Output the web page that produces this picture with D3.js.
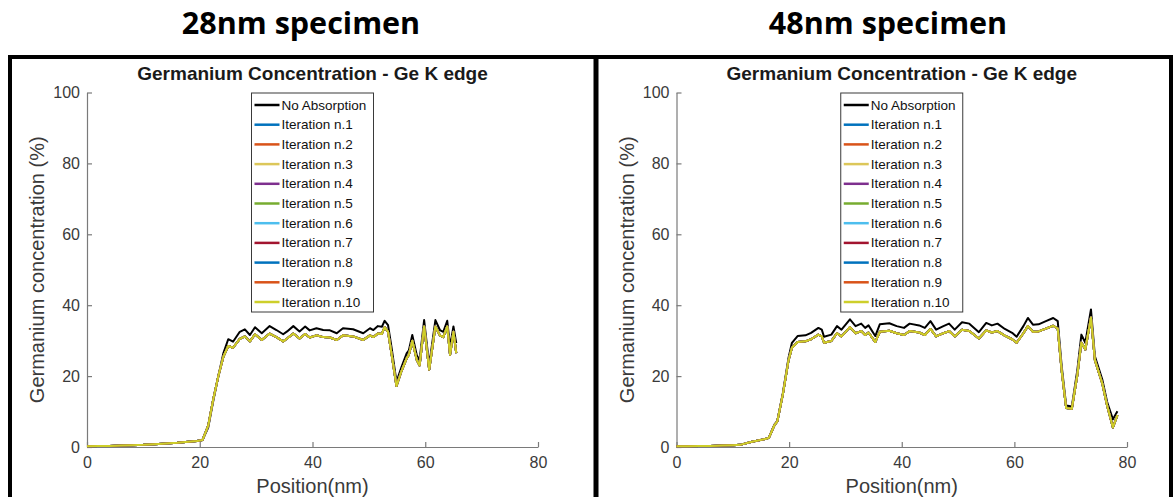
<!DOCTYPE html>
<html><head><meta charset="utf-8">
<script src="https://cdn.jsdelivr.net/npm/d3@7"></script>
<style>html,body{margin:0;padding:0;background:#fff;}svg{display:block;}</style>
</head><body>
<svg id="chart" width="1175" height="497"></svg>
<script>
// ---------- data ----------
const panelHeadings = ["28nm specimen", "48nm specimen"];
const chartTitle = "Germanium Concentration - Ge K edge";
const xLabel = "Position(nm)";
const yLabel = "Germanium concentration (%)";
const xTicks = [0, 20, 40, 60, 80];
const yTicks = [0, 20, 40, 60, 80, 100];
const seriesNames = ["No Absorption", "Iteration n.1", "Iteration n.2", "Iteration n.3", "Iteration n.4",
  "Iteration n.5", "Iteration n.6", "Iteration n.7", "Iteration n.8", "Iteration n.9", "Iteration n.10"];
const seriesColors = ["#000000", "#0072BD", "#D95319", "#DCC75A", "#7E2F8E", "#77AC30", "#4DBEEE",
  "#A2142F", "#0072BD", "#D95319", "#CDCF2A"];

// 28nm specimen
const pos28 = [0,2,4,6,8,10,12,14,16,18, 19.5,20.5,21.5,22.4,23.3,24.2,25.05,25.9,27.1,28.0,
  28.9,29.8,31.0,32.4,33.6,34.8,35.5,36.6,37.7,38.7, 39.5,40.7,41.9,43.1,44.3,45.4,47.2,49.0,50.2,50.8,
  51.6,52.3,52.8,53.4,54.0,54.9,55.8,56.7,57.1,57.7, 58.5,59.0,59.8,60.7,61.8,62.6,63.2,63.9,64.4,65.0, 65.5];
const noAbs28 = [0.2,0.3,0.3,0.4,0.5,0.6,0.8,1.0,1.2,1.5, 1.7,2.0,5.5,13,20,26.5,30.4,29.7,32.5,33.2,
  31.6,33.8,32.1,34.1,33.0,31.8,32.6,34.1,32.6,34.0, 32.9,33.5,33.0,32.9,32.1,33.5,33.2,32.1,33.5,33.0,
  34.1,33.9,35.6,34.4,28.3,18.4,22.6,26.4,27.3,31.6, 25.9,24.5,35.8,23.1,35.8,33.0,32.5,35.6,28.3,34.0, 29.3];
// iterations 1-10 overlap each other at this resolution
const iter28 = [0.2,0.3,0.3,0.4,0.5,0.6,0.8,1.0,1.2,1.5, 1.7,2.0,6.0,13.5,20,25.5,28.5,28.0,30.5,31.2,
  29.8,31.8,30.2,32.0,31.0,29.8,30.6,32.0,30.6,31.9, 30.9,31.5,31.0,30.9,30.2,31.5,31.2,30.2,31.5,31.0,
  32.0,31.9,33.8,32.5,26.5,17.2,21.5,25.0,26.0,30.0, 24.5,23.0,34.0,21.8,34.0,31.5,31.0,34.0,26.0,32.5, 26.5];

// 48nm specimen
const pos48 = [0,2,4,6,8,10, 11.3,13.2,15.9,16.4,17.4,17.9,18.9,19.9,20.5,21.5,
  22.9,23.9,25.2,25.8,26.2,27.5,28.5,29.3,30.8,31.8, 32.8,33.5,34.1,35.3,36.1,37.8,39.1,40.4,41.4,43.1,
  44.1,45.1,46.1,47.4,48.4,49.4,50.7,52.0,53.7,55.0, 56.0,57.0,58.3,59.6,60.4,61.6,62.4,63.3,64.3,65.6,
  66.9,67.7,68.4,69.2,70.2,71.2,71.9,72.6,73.6,74.3, 75.6,76.5,77.5,78.3];
const noAbs48 = [0.2,0.2,0.3,0.3,0.4,0.5, 0.6,1.4,2.3,2.6,6.4,7.3,15.3,25.2,29.4,31.3,
  31.5,32.2,33.6,33.1,31.1,31.7,34.1,33.1,36.0,34.1, 34.8,33.6,34.3,31.3,34.6,34.9,34.1,33.6,34.8,34.3,
  33.6,35.5,33.1,34.1,34.8,33.1,35.2,34.8,32.4,35.0, 34.3,34.8,33.3,32.2,31.1,34.1,36.4,34.5,34.6,35.5,
  36.4,35.5,22.8,11.7,11.4,21.9,31.7,29.4,38.8,25.6, 19.1,12.5,7.8,10.1];
const iter48 = [0.2,0.2,0.3,0.3,0.4,0.5, 0.6,1.4,2.3,2.6,6.2,7.2,15.0,24.5,28.0,29.6,
  29.8,30.4,31.7,31.2,29.4,29.9,32.1,31.2,33.8,32.1, 32.7,31.6,32.3,29.6,32.5,32.8,32.1,31.6,32.7,32.3,
  31.6,33.3,31.2,32.1,32.7,31.2,33.1,32.7,30.6,32.9, 32.3,32.7,31.4,30.4,29.4,32.1,34.1,32.5,32.6,33.4,
  34.2,33.4,21.5,11.0,10.8,20.5,29.5,27.5,36.5,24.5, 18.0,11.5,5.5,9.0];

// ---------- drawing ----------
const svg = d3.select("#chart");
svg.append("rect").attr("width", 1175).attr("height", 497).attr("fill", "#fff");

// frame
const frame = svg.append("g").attr("stroke", "#000");
frame.append("line").attr("x1", 8).attr("x2", 1173).attr("y1", 57).attr("y2", 57).attr("stroke-width", 4);
frame.append("line").attr("x1", 10).attr("x2", 10).attr("y1", 55).attr("y2", 497).attr("stroke-width", 4);
frame.append("line").attr("x1", 596).attr("x2", 596).attr("y1", 55).attr("y2", 497).attr("stroke-width", 5);
frame.append("line").attr("x1", 1171).attr("x2", 1171).attr("y1", 55).attr("y2", 497).attr("stroke-width", 4);

const panels = [
  { heading: panelHeadings[0], cx: 301, left: 87, right: 538, pos: pos28, noAbs: noAbs28, iter: iter28 },
  { heading: panelHeadings[1], cx: 888, left: 676.5, right: 1127, pos: pos48, noAbs: noAbs48, iter: iter48 }
];
const plotTop = 92.5, plotBottom = 447;

panels.forEach(p => {
  svg.append("text").attr("x", p.cx).attr("y", 34).attr("text-anchor", "middle")
    .attr("font-family", "'Open Sans', sans-serif").attr("font-weight", "bold").attr("font-size", 30.5)
    .attr("fill", "#000").text(p.heading);

  const x = d3.scaleLinear().domain([0, 80]).range([p.left, p.right]);
  const y = d3.scaleLinear().domain([0, 100]).range([plotBottom, plotTop]);
  const g = svg.append("g");

  const xAxis = g.append("g").attr("transform", `translate(0,${plotBottom})`)
    .call(d3.axisBottom(x).tickValues(xTicks).tickSize(-5).tickSizeOuter(0).tickPadding(10));
  const yAxis = g.append("g").attr("transform", `translate(${p.left},0)`)
    .call(d3.axisLeft(y).tickValues(yTicks).tickSize(-5).tickSizeOuter(0).tickPadding(7));
  [xAxis, yAxis].forEach(a => {
    a.select(".domain").attr("stroke", "#7a7a7a").attr("stroke-width", 1.2);
    a.selectAll(".tick line").attr("stroke", "#7a7a7a").attr("stroke-width", 1.2);
    a.selectAll(".tick text").attr("font-family", "'Liberation Sans', Arial, sans-serif")
      .attr("font-size", 16).attr("fill", "#3a3a3a");
  });

  const cxAx = (p.left + p.right) / 2;
  g.append("text").attr("x", cxAx).attr("y", 80).attr("text-anchor", "middle")
    .attr("font-family", "'Liberation Sans', Arial, sans-serif").attr("font-weight", "bold")
    .attr("font-size", 19).attr("fill", "#1a1a1a").text(chartTitle);
  g.append("text").attr("x", cxAx).attr("y", 493).attr("text-anchor", "middle")
    .attr("font-family", "'Liberation Sans', Arial, sans-serif").attr("font-size", 20)
    .attr("fill", "#3a3a3a").text(xLabel);
  g.append("text").attr("transform", `translate(${p.left - 43},${(plotTop + plotBottom) / 2}) rotate(-90)`)
    .attr("text-anchor", "middle")
    .attr("font-family", "'Liberation Sans', Arial, sans-serif").attr("font-size", 20)
    .attr("fill", "#3a3a3a").text(yLabel);

  const line = d3.line().x((d, i) => x(p.pos[i])).y(d => y(d));
  const seriesData = [p.noAbs, p.iter, p.iter, p.iter, p.iter, p.iter, p.iter, p.iter, p.iter, p.iter, p.iter];
  seriesData.forEach((vals, k) => {
    g.append("path").datum(vals).attr("d", line).attr("fill", "none")
      .attr("stroke", seriesColors[k]).attr("stroke-width", 2).attr("stroke-linejoin", "round");
  });

  // legend
  const lw = 122, lx = cxAx - lw / 2, ly = 93, lh = 219;
  const leg = g.append("g");
  leg.append("rect").attr("x", lx).attr("y", ly).attr("width", lw).attr("height", lh)
    .attr("fill", "#fff").attr("stroke", "#3a3a3a").attr("stroke-width", 1);
  seriesNames.forEach((name, k) => {
    const yy = ly + 12 + k * 19.7;
    leg.append("line").attr("x1", lx + 3).attr("x2", lx + 28).attr("y1", yy).attr("y2", yy)
      .attr("stroke", seriesColors[k]).attr("stroke-width", 2.5);
    leg.append("text").attr("x", lx + 30).attr("y", yy + 4.5)
      .attr("font-family", "'Liberation Sans', Arial, sans-serif").attr("font-size", 13.5)
      .attr("fill", "#111").text(name);
  });
});
</script>
</body></html>
